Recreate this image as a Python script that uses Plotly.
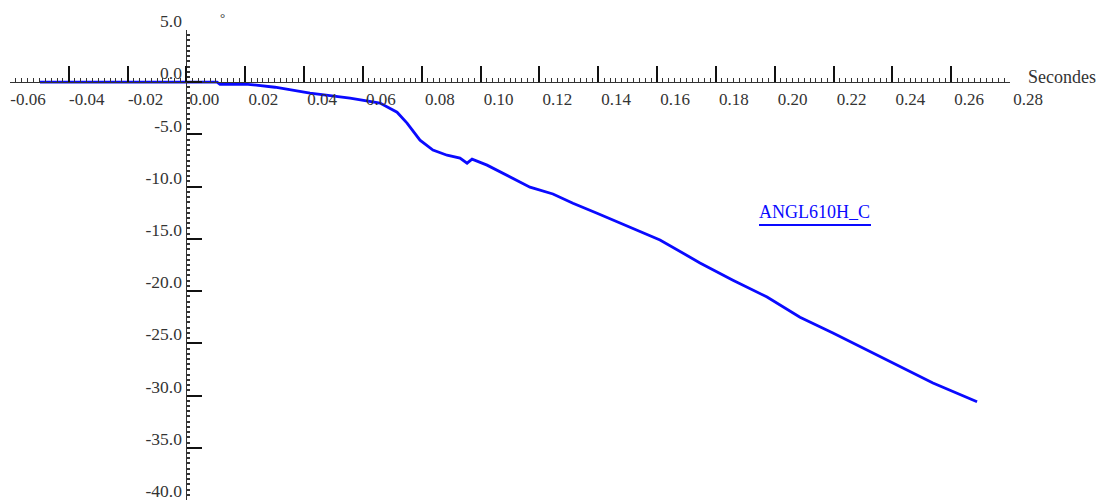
import plotly.graph_objects as go

# ---- data ----
time_s = [-0.0498, 0.0104, 0.0114, 0.0209, 0.0301, 0.0420, 0.0556, 0.0658, 0.0716,
          0.0750, 0.0794, 0.0838, 0.0886, 0.0930, 0.0954, 0.0971, 0.1022, 0.1090,
          0.1168, 0.1246, 0.1314, 0.1396, 0.1450, 0.1610, 0.1746, 0.1858, 0.1974,
          0.2086, 0.2198, 0.2314, 0.2426, 0.2538, 0.2688]
angle_deg = [0.0, 0.0, -0.2, -0.2, -0.48, -1.05, -1.53, -2.0, -2.87,
             -3.92, -5.55, -6.5, -6.99, -7.27, -7.75, -7.37, -7.94, -8.9,
             -10.05, -10.7, -11.58, -12.54, -13.2, -15.1, -17.3, -18.95, -20.57,
             -22.5, -24.0, -25.65, -27.27, -28.8, -30.6]
series_name = "ANGL610H_C"

x_tickvals = [-0.06, -0.04, -0.02, 0.00, 0.02, 0.04, 0.06, 0.08, 0.10, 0.12,
              0.14, 0.16, 0.18, 0.20, 0.22, 0.24, 0.26, 0.28]
x_ticktext = ["-0.06", "-0.04", "-0.02", "0.00", "0.02", "0.04", "0.06", "0.08", "0.10",
              "0.12", "0.14", "0.16", "0.18", "0.20", "0.22", "0.24", "0.26", "0.28"]
y_tickvals = [5, 0, -5, -10, -15, -20, -25, -30, -35, -40]
y_ticktext = ["5.0", "0.0", "-5.0", "-10.0", "-15.0", "-20.0", "-25.0", "-30.0", "-35.0", "-40.0"]
x_unit = "Secondes"
y_unit = "°"

W, H = 1106, 500
X_RANGE = [-0.06, 0.28]
Y_RANGE = [-40, 5]
x_dom = [10 / W, 1010 / W]
y_dom = [0, 470 / H]

# where the axes cross (data 0,0) in paper fractions
x0_paper = x_dom[0] + (0 - X_RANGE[0]) / (X_RANGE[1] - X_RANGE[0]) * (x_dom[1] - x_dom[0])
y0_paper = y_dom[0] + (0 - Y_RANGE[0]) / (Y_RANGE[1] - Y_RANGE[0]) * (y_dom[1] - y_dom[0])

FONT = "Liberation Serif, Times New Roman, serif"
AX = "#333333"
BLUE = "#0a0aff"

fig = go.Figure()
fig.add_trace(go.Scatter(x=time_s, y=angle_deg, mode="lines", name=series_name,
                         line=dict(color=BLUE, width=2.8), showlegend=False,
                         cliponaxis=False, hoverinfo="skip"))

fig.update_layout(
    width=W, height=H,
    margin=dict(l=0, r=0, t=0, b=0, autoexpand=False),
    paper_bgcolor="white", plot_bgcolor="white",
    font=dict(family=FONT, size=17, color=AX),
    xaxis=dict(
        range=X_RANGE, domain=x_dom, anchor="free", position=y0_paper, automargin=False,
        showgrid=False, zeroline=False, showline=True, linecolor=AX, linewidth=1,
        tickmode="array", tickvals=x_tickvals, ticktext=x_ticktext,
        ticks="inside", ticklen=16, tickwidth=1.5, tickcolor="#111111",
        ticklabelshift=18, ticklabelstandoff=1, ticklabeloverflow="allow",
        tickfont=dict(family=FONT, size=17, color=AX),
        minor=dict(dtick=0.002, ticks="inside", ticklen=4, tickwidth=1, tickcolor=AX, showgrid=False),
    ),
    yaxis=dict(
        range=Y_RANGE, domain=y_dom, anchor="free", position=x0_paper, automargin=False,
        showgrid=False, zeroline=False, showline=True, linecolor=AX, linewidth=1,
        tickmode="array", tickvals=y_tickvals, ticktext=y_ticktext,
        ticks="inside", ticklen=15, tickwidth=1.5, tickcolor="#111111",
        ticklabelshift=-9, ticklabelstandoff=1, ticklabeloverflow="allow",
        tickfont=dict(family=FONT, size=17.5, color=AX),
        minor=dict(dtick=0.5, ticks="inside", ticklen=3, tickwidth=1.5, tickcolor=AX, showgrid=False),
    ),
)

# axis units
fig.add_annotation(xref="paper", yref="paper", x=1026 / W, y=1 - 77 / H,
                   text=x_unit, showarrow=False, xanchor="left", yanchor="middle",
                   font=dict(family=FONT, size=18, color=AX))
fig.add_annotation(xref="paper", yref="paper", x=222 / W, y=1 - 17 / H,
                   text=y_unit, showarrow=False, xanchor="center", yanchor="middle",
                   font=dict(family=FONT, size=13, color=AX))

# legend label with underline
fig.add_annotation(xref="paper", yref="paper", x=757 / W, y=1 - 212 / H,
                   text=series_name, showarrow=False, xanchor="left", yanchor="middle",
                   font=dict(family=FONT, size=18, color=BLUE))
fig.add_shape(type="line", xref="paper", yref="paper",
              x0=759 / W, x1=871 / W, y0=1 - 225 / H, y1=1 - 225 / H,
              line=dict(color=BLUE, width=2))

fig.write_html("out.html", config={"displayModeBar": False},
               post_script="document.body.style.margin='0';document.body.style.overflow='hidden';")
